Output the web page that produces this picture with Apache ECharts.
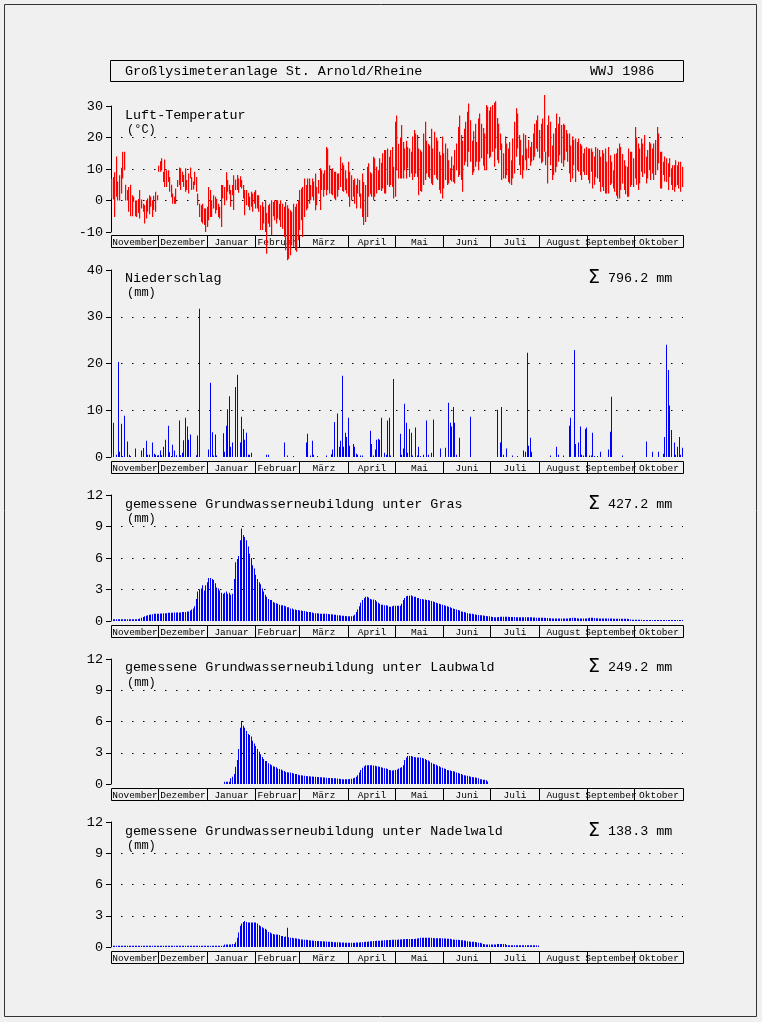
<!DOCTYPE html>
<html><head><meta charset="utf-8">
<script src="https://cdn.jsdelivr.net/npm/echarts@6/dist/echarts.min.js"></script>
<style>html,body{margin:0;padding:0;background:#f0f0f0;}#c{width:762px;height:1022px;}</style>
</head><body><div id="c"></div>
<script>
// ---------- data ----------
const monthNames = ['November','Dezember','Januar','Februar','März','April','Mai','Juni','Juli','August','September','Oktober'];
const monthDays = [30,31,31,28,31,30,31,30,31,31,30,31];
const tempTicks = [-10, 0, 10, 20, 30];
const precipTicks = [0, 10, 20, 30, 40];
const gwTicks = [0, 3, 6, 9, 12];
const titleText = 'Großlysimeteranlage St. Arnold/Rheine';
const yearText = 'WWJ 1986';
const panelTitles = ['Luft-Temperatur','Niederschlag','gemessene Grundwasserneubildung unter Gras','gemessene Grundwasserneubildung unter Laubwald','gemessene Grundwasserneubildung unter Nadelwald'];
const panelUnits = ['(°C)','(mm)','(mm)','(mm)','(mm)'];
const sums = [null,'796.2','427.2','249.2','138.3'];

// daily maximum temperature (°C), Nov 1985 .. Oct 1986
const tmax = [
 [7,7.5,9,14,6,8,10.4,15.5,15.5,5,3.3,4.3,5,1.7,1.2,0,0,0.5,3.3,0.3,-1,-1.5,0.1,0.6,1.7,1.2,0.1,1.5,2.8,1.7],
 [11,12.5,13.4,9.1,13,9.6,9.6,7.5,5,2.2,1.2,3.8,6.5,10.5,10.2,9.1,8.1,10.2,6.5,8.6,10.5,7.5,6,9.1,7.5,2.2,-1,-1.5,-1,-2.5,-2.5],
 [-2,4.3,3.3,0.1,1.7,1.2,0.5,-1,-2,4.9,4.9,4.3,9,6.5,5,3.3,4.9,8,6.7,8.1,7,7.7,6.5,4.9,3.3,3.3,2.5,1.2,2.8,2.2,2.8],
 [3.3,1.7,1.7,-1.5,-0.5,-2,0.1,-4,-1.5,-1,0.1,-0.5,0.1,0.1,0.1,-1,0.1,-1,-2,-0.5,-1.5,-2.5,-3.1,-3.6,-1,-2,-1,0.1],
 [3.3,3.8,4.3,7,4.9,7,7,4.9,7,6,8.6,4.3,6.5,10.2,9.6,8.6,9.6,17,16.5,11.2,10,10.2,9.1,9.1,8.6,8.6,13.9,12,11.2,9.6,7],
 [12.3,9.1,8,6.5,7,4.9,7,6.5,2.2,8.6,5.9,4.9,10.7,11.8,9,8.6,13.9,13.4,10.7,9.6,13.4,12,15,16,16,16.5,13.9,16,17,10.7],
 [25,27,18,20,24,18.6,16.5,19,17,16.5,15.5,20.3,22.4,21.3,20.8,16.5,16,15.5,21.3,25,19,18,17.5,22.8,16.5,21.8,20,19,15.5,14.4,20.3],
 [15,18.1,16.5,12.8,10.2,14,11.2,16,18.1,23.3,27,20.8,19,22.8,25,28.2,30.8,25.5,19,22,24.4,18.6,26,27.6,24.4,23,21.3,30.3,29.8,28.6],
 [29.8,30.3,31,31.5,26.2,24.4,21.3,18.1,15,20.3,18.1,16.5,18.6,12.8,19.7,25,29.3,27.6,20.8,19.2,14.4,21.3,20.8,16.5,19.2,17,18.6,21.3,24.4,25.5,27],
 [22.4,24.4,26,33.5,15.5,24,27,25,17.5,21.3,23,27.6,24.4,26.5,24,24.4,24,22.4,21.3,21.3,17.5,20.3,19.2,19.7,18.6,19.7,18,17.5,15,16.5,17],
 [16.5,16.5,16.5,15.5,14,17,16.5,16,13.9,16,15,16.5,12.3,17,14.4,12.3,9.6,14.8,15,16.5,18.1,17,14.8,12.8,11,10.7,16.5,15.5,15.5,13.4],
 [23.3,20,18.1,16.5,19.7,18.1,20.8,13.9,16,18.6,18.1,16.5,18.1,19.2,23.3,21.3,15.5,15.5,12.3,14,13.4,11.8,13.4,10.2,11.2,11.2,12.8,11.2,12.3,12.3,10.7]
].flat();
// daily minimum temperature (°C)
const tmin = [
 [0.6,0.3,-5.2,1.2,0,0,2.2,7,9.6,0,0,-3.6,-5,-5,-0.4,-5,-5.2,-4,-5.7,-2.5,-3.6,-7.3,-5.7,-3.6,-4.4,-2,-5.2,-3,-3.6,0.1],
 [9.1,9.1,9.6,5.9,4.3,4.3,5.9,2.8,1,-1,-1,-1,4.3,4.9,3.3,5.9,4.3,2.8,3.3,2.2,7,3.3,3.5,4.9,2.8,-1.5,-5.2,-6.8,-7.3,-7.8,-10],
 [-8.4,-6.3,-5.2,-5.2,-2.5,-4.1,-3,-5.2,-5.7,-8.4,0.6,-1.5,0,2.8,2,-2,1.7,-3,3.3,3.3,2.5,4.3,3.8,0.6,-4.7,-1.5,-2,-3.1,-2,-3.6,-1],
 [-2.5,-2.5,-3.6,-9.4,-9.4,-7.3,-10,-16.9,-7.3,-8.4,-11,-5,-6.3,-7.3,-5.7,-6.3,-8.4,-9,-11.6,-15.8,-19,-18.5,-17.4,-14.2,-14.7,-15.8,-16.3,-12.6],
 [-9.4,-6.3,-11.6,-5.2,-3.1,-2.5,-1,0.1,1.2,0,-3.1,-1.5,2.2,-3,3.3,1.2,3.3,1.7,3.3,2.2,2,1.7,0.6,0.1,1.2,3.3,4.3,3,2.8,3.3,2.2],
 [1.2,-2,0,1.2,-1,-2.5,2.2,1.2,-2.5,-5.2,-7.8,-6.8,-5.2,1.2,2,1.2,0.1,1.2,2.2,3.3,3.3,3,3.8,2.2,2.2,4.9,4.3,4.9,4.3,0.6],
 [1.2,9.6,7,7,7,7,9.6,7,10.2,7.5,8.6,6.5,7.5,8.6,7.5,1.7,3,2.8,4.9,6.5,8.6,7.5,7,5.4,4.9,8.1,7,6.5,3.3,2.2,0.6],
 [3.8,6.5,4.9,5.4,6.5,6,5.9,5.4,9.6,7.5,8.1,6.5,2.8,11.2,12.3,10.7,15.5,12.3,8.1,9,10.7,12.3,9.6,12.3,13.4,11,9.6,9.6,14.8,13.4],
 [13.9,15.5,10.7,16.5,12.8,11.8,16,6.5,7,7,8.1,5.9,5.4,4.9,7,8.6,13.9,16.5,11.2,8.1,7,9.6,12.8,9.6,13.4,11,12.3,12.8,13.9,16.5,15.5],
 [13.4,11.8,12.3,15.5,11.2,5.4,13.9,11.2,6.5,8.1,9,10.7,12.3,14.4,11.8,10.7,12.8,15.5,12.3,8.6,5.9,7,11.2,5.9,9.6,9.1,8,6.5,9.1,8.1,8.1],
 [6.5,5.4,9.1,3.8,5,7.5,7,5.9,2.8,4.3,3,2.2,2.2,2.2,4.9,5.4,3.8,2.8,1.5,0.6,0.6,3.3,5.4,3.3,2,1.2,1.2,4.3,4.9,4.3],
 [7,5,3.3,5.4,9.1,7.5,8.6,5.4,7,9.6,6.5,8.6,6.5,8.1,9.6,11.8,3.8,3.8,8.1,6,5.9,3.3,7.5,4.9,3.3,2.8,4.3,4.9,3.8,2.8,4.3]
].flat();
// daily precipitation (mm)
const precip = [
 [0.9,7.3,0,0.5,20.3,1.1,7.1,0.2,8.8,0,3.3,0.5,0.2,0,0,1.8,0,0,0,1.4,1.9,0,3.5,0.5,0.5,0,3.1,0.7,0.5,0.3],
 [0.4,1.4,0.4,2.2,3.7,0,6.7,1,0.2,2.6,1.4,0.4,0,7.8,0.4,0.9,3.6,8.4,6.5,3.7,4.8,0,0,0,0.4,4.6,31.7,0,0,0,0],
 [0,1.6,15.9,5.3,0.3,4.8,0.3,0,0,0,5.1,1.1,6.7,10.2,13,2.2,3.1,0,15,17.6,0,3.1,8.6,6,3.7,5.2,0.5,0.5,0.9,0,0],
 [0,0,0,0,0,0,0,0.5,0.5,0,0,0,0,0,0,0,0,0,3.1,0,0.3,0,0,0,0.2,0,0,0],
 [0,0,0,0,3.1,5,0,0.3,3.5,0.5,0,0.2,0,0,0,0,0,0.3,0,0,0.6,1.6,7.5,0,9.3,2.2,3.5,17.4,2.2,5.2,4.3],
 [8.4,2.4,0,2.8,2.2,0.7,0.5,0,0.3,0.3,0,0,0,0,5.6,2.8,0.3,1.6,3.7,3.9,3.7,8.4,0,0.9,0.5,7.8,8.4,0.3,0,16.7],
 [0,0,0,5,0.5,1.8,11.4,7.3,0.9,6,5.2,0.3,0,6.3,0.3,2.2,0.2,0,0.5,0,7.8,0.5,0,0.9,8,0,0,0,0,1.8,0],
 [0,2,0,11.6,7.3,6.5,10.7,7.3,0.5,0,4.1,0,0,0,0,0,0,8.6,0,0,0,0,0,0,0,0,0,0,0,0],
 [0,0,0,0,10.1,0,3.1,10.7,0.5,0,1.8,0,0,0,0.3,0,0,0.2,0,0,0,1.4,1.1,22.3,2.4,4.1,1.1,0,0,0,0],
 [0,0,0,0,0,0,0,0.3,0,0,0,2.2,0.5,0,0,0.3,0,0,0,6.7,8.4,0,22.9,2.8,0,3.1,6.5,0.5,0.3,6,6.3],
 [0,0.3,0.3,5.2,0.2,0,0.2,0,1.1,0,0,0,0,1.6,5.4,12.9,0,0,0,0,0,0,0.3,0,0,0,0,0,0,0],
 [0,0,0,0,0,0,0,3.3,0,0,0,1.1,0,0,0,1.1,0,0,0.7,4.3,24,18.6,11,5.8,0,3.1,0.5,2.2,4.3,0.5,2]
].flat();
// daily groundwater recharge under grass (mm)
const gwGras = [
 [0.16,0.16,0.16,0.16,0.16,0.16,0.16,0.16,0.16,0.16,0.16,0.16,0.16,0.16,0.16,0.16,0.16,0.18,0.25,0.32,0.38,0.45,0.5,0.55,0.6,0.62,0.65,0.68,0.68,0.7],
 [0.7,0.72,0.72,0.75,0.75,0.75,0.78,0.78,0.78,0.78,0.8,0.8,0.8,0.8,0.82,0.85,0.85,0.85,0.9,0.9,1.0,1.1,1.2,1.4,2.1,2.8,3.0,3.1,3.4,2.9,3.4],
 [3.7,4.1,4.1,4.0,3.9,3.6,3.2,3.1,2.9,2.7,2.6,2.7,2.8,2.6,2.7,2.5,2.6,4.0,5.6,5.9,6.2,7.7,8.8,8.2,8.0,7.7,7.1,6.4,6.0,5.3,5.0],
 [4.4,4.0,3.7,3.5,3.1,2.8,2.5,2.3,2.1,2.0,2.0,1.8,1.75,1.7,1.65,1.55,1.5,1.5,1.45,1.4,1.3,1.3,1.2,1.2,1.1,1.1,1.05,1.05],
 [1.0,1.0,0.95,0.95,0.9,0.85,0.85,0.85,0.8,0.75,0.75,0.75,0.72,0.7,0.7,0.7,0.68,0.68,0.66,0.65,0.65,0.62,0.6,0.6,0.55,0.55,0.52,0.5,0.5,0.48,0.45],
 [0.45,0.45,0.45,0.5,0.6,0.85,1.1,1.4,1.75,2.0,2.2,2.3,2.3,2.25,2.1,2.05,2.05,2.0,1.85,1.75,1.65,1.55,1.55,1.5,1.5,1.45,1.35,1.35,1.4,1.45],
 [1.45,1.45,1.45,1.45,1.65,2.0,2.2,2.35,2.4,2.4,2.45,2.35,2.3,2.3,2.2,2.2,2.1,2.1,2.05,2.05,2.0,2.0,1.95,1.9,1.85,1.8,1.75,1.7,1.65,1.6,1.55],
 [1.5,1.45,1.4,1.35,1.3,1.25,1.2,1.15,1.1,1.05,1.0,0.9,0.88,0.85,0.8,0.75,0.72,0.7,0.68,0.65,0.63,0.6,0.58,0.55,0.55,0.52,0.5,0.48,0.45,0.45],
 [0.4,0.38,0.35,0.35,0.36,0.38,0.4,0.4,0.4,0.4,0.4,0.4,0.38,0.38,0.38,0.38,0.36,0.36,0.36,0.35,0.35,0.35,0.35,0.35,0.35,0.35,0.35,0.34,0.34,0.32,0.32],
 [0.3,0.3,0.3,0.3,0.28,0.28,0.26,0.26,0.25,0.25,0.25,0.25,0.25,0.25,0.25,0.25,0.25,0.25,0.25,0.27,0.28,0.3,0.3,0.28,0.26,0.25,0.25,0.25,0.25,0.25,0.25],
 [0.27,0.3,0.3,0.3,0.28,0.27,0.26,0.25,0.25,0.25,0.25,0.24,0.24,0.24,0.23,0.23,0.22,0.22,0.22,0.22,0.22,0.22,0.22,0.22,0.22,0.22,0.2,0.15,0.13,0.13],
 [0.12,0.12,0.12,0.11,0.11,0.1,0.1,0.1,0.1,0.1,0.1,0.1,0.1,0.1,0.1,0.1,0.1,0.1,0.1,0.1,0.1,0.1,0.1,0.1,0.1,0.1,0.1,0.1,0.1,0.1,0.1]
].flat();
// daily groundwater recharge under deciduous forest (mm)
const gwLaub = [
 [0,0,0,0,0,0,0,0,0,0,0,0,0,0,0,0,0,0,0,0,0,0,0,0,0,0,0,0,0,0],
 [0,0,0,0,0,0,0,0,0,0,0,0,0,0,0,0,0,0,0,0,0,0,0,0,0,0,0,0,0,0,0],
 [0,0,0,0,0,0,0,0,0,0,0,0.22,0.22,0.22,0.22,0.55,0.7,0.95,1.65,2.3,3.35,5.4,6.05,5.6,5.4,5.1,4.8,4.7,4.55,4.15,3.9],
 [3.65,3.35,3.1,2.85,2.6,2.4,2.2,2.2,2.0,1.9,1.8,1.7,1.65,1.6,1.5,1.45,1.4,1.3,1.25,1.15,1.12,1.1,1.1,1.05,1.0,0.95,0.95,0.9],
 [0.85,0.85,0.82,0.8,0.78,0.75,0.75,0.72,0.72,0.7,0.7,0.68,0.68,0.65,0.65,0.63,0.62,0.6,0.58,0.58,0.57,0.56,0.55,0.55,0.52,0.5,0.48,0.46,0.45,0.45,0.45],
 [0.46,0.48,0.5,0.55,0.6,0.7,0.85,1.1,1.35,1.55,1.7,1.8,1.8,1.8,1.8,1.8,1.78,1.75,1.7,1.68,1.65,1.6,1.55,1.52,1.5,1.45,1.35,1.32,1.3,1.32],
 [1.35,1.4,1.5,1.55,1.6,1.8,2.3,2.55,2.7,2.7,2.7,2.65,2.6,2.58,2.55,2.55,2.55,2.5,2.45,2.4,2.3,2.25,2.15,2.05,1.95,1.9,1.85,1.75,1.7,1.6,1.55],
 [1.5,1.45,1.35,1.32,1.3,1.25,1.22,1.2,1.1,1.05,1.0,0.95,0.9,0.85,0.82,0.8,0.75,0.7,0.68,0.65,0.62,0.6,0.55,0.45,0.45,0.42,0.4,0.35,0.25,0],
 [0,0,0,0,0,0,0,0,0,0,0,0,0,0,0,0,0,0,0,0,0,0,0,0,0,0,0,0,0,0,0],
 [0,0,0,0,0,0,0,0,0,0,0,0,0,0,0,0,0,0,0,0,0,0,0,0,0,0,0,0,0,0,0],
 [0,0,0,0,0,0,0,0,0,0,0,0,0,0,0,0,0,0,0,0,0,0,0,0,0,0,0,0,0,0],
 [0,0,0,0,0,0,0,0,0,0,0,0,0,0,0,0,0,0,0,0,0,0,0,0,0,0,0,0,0,0,0]
].flat();
// daily groundwater recharge under coniferous forest (mm)
const gwNadel = [
 [0.13,0.13,0.13,0.13,0.13,0.13,0.13,0.13,0.13,0.13,0.13,0.13,0.13,0.13,0.13,0.13,0.13,0.13,0.13,0.13,0.13,0.13,0.13,0.13,0.13,0.13,0.13,0.13,0.13,0.13],
 [0.13,0.13,0.13,0.13,0.13,0.13,0.13,0.13,0.13,0.13,0.13,0.13,0.13,0.13,0.13,0.13,0.13,0.13,0.13,0.13,0.13,0.13,0.13,0.13,0.13,0.13,0.13,0.13,0.13,0.13,0.13],
 [0.13,0.13,0.13,0.13,0.13,0.13,0.13,0.13,0.13,0.13,0.13,0.25,0.25,0.25,0.25,0.25,0.28,0.3,0.45,0.9,1.4,2.05,2.25,2.4,2.5,2.4,2.35,2.35,2.35,2.35,2.35],
 [2.35,2.25,2.1,2.0,1.9,1.8,1.75,1.65,1.45,1.4,1.3,1.25,1.2,1.2,1.2,1.15,1.05,1.05,0.95,1.0,1.85,0.93,0.9,0.88,0.85,0.83,0.82,0.8],
 [0.75,0.73,0.72,0.7,0.7,0.68,0.64,0.63,0.62,0.6,0.58,0.58,0.57,0.56,0.55,0.55,0.54,0.52,0.5,0.5,0.5,0.48,0.46,0.45,0.45,0.45,0.44,0.44,0.43,0.42,0.42],
 [0.42,0.42,0.42,0.42,0.42,0.43,0.43,0.44,0.45,0.46,0.48,0.5,0.5,0.52,0.55,0.56,0.58,0.58,0.6,0.6,0.6,0.62,0.63,0.65,0.66,0.67,0.68,0.68,0.7,0.7],
 [0.7,0.7,0.72,0.72,0.74,0.75,0.76,0.77,0.77,0.77,0.77,0.77,0.78,0.8,0.82,0.85,0.88,0.9,0.9,0.9,0.9,0.9,0.88,0.88,0.86,0.85,0.84,0.84,0.83,0.83,0.83],
 [0.82,0.82,0.8,0.8,0.8,0.75,0.72,0.7,0.7,0.7,0.68,0.66,0.65,0.62,0.6,0.55,0.52,0.5,0.5,0.5,0.48,0.45,0.42,0.4,0.35,0.3,0.27,0.25,0.25,0.25],
 [0.25,0.25,0.25,0.25,0.3,0.3,0.3,0.3,0.3,0.3,0.2,0.18,0.18,0.18,0.18,0.18,0.18,0.18,0.18,0.18,0.18,0.18,0.18,0.18,0.18,0.18,0.18,0.18,0.18,0.18,0.15],
 [0,0,0,0,0,0,0,0,0,0,0,0,0,0,0,0,0,0,0,0,0,0,0,0,0,0,0,0,0,0,0],
 [0,0,0,0,0,0,0,0,0,0,0,0,0,0,0,0,0,0,0,0,0,0,0,0,0,0,0,0,0,0],
 [0,0,0,0,0,0,0,0,0,0,0,0,0,0,0,0,0,0,0,0,0,0,0,0,0,0,0,0,0,0,0]
].flat();

// ---------- chart ----------
const FONT = '"Liberation Mono","DejaVu Sans Mono",monospace';
const nDays = monthDays.reduce((a,b)=>a+b,0);
const stripData = [];
{ let s = 0; monthDays.forEach(d => { stripData.push([s, s + d]); s += d; }); }

const PL = 111, PW = 572;
const panels = [
  {top:106, height:126, ticks:tempTicks, strip:235},
  {top:270, height:187, ticks:precipTicks, strip:461},
  {top:495, height:126, ticks:gwTicks, strip:625},
  {top:659, height:125, ticks:gwTicks, strip:788},
  {top:822, height:125, ticks:gwTicks, strip:951}
];
const titleY = [[115,130],[278,293],[504,519],[667,683],[831,846]];

const grid = [], xAxis = [], yAxis = [], series = [];
panels.forEach((p, i) => {
  grid.push({left:PL, top:p.top, width:PW, height:p.height});
  grid.push({left:PL, top:p.strip, width:PW, height:13});
  const gi = i*2;
  xAxis.push({gridIndex:gi, type:'value', min:0, max:nDays, show:false});
  xAxis.push({gridIndex:gi+1, type:'value', min:0, max:nDays, show:false});
  const t = p.ticks;
  yAxis.push({gridIndex:gi, type:'value', min:t[0], max:t[t.length-1], interval:t[1]-t[0],
    axisLine:{show:true, lineStyle:{color:'#000', width:1}},
    axisTick:{show:true, length:5, lineStyle:{color:'#000'}},
    axisLabel:{color:'#000', fontFamily:FONT, fontSize:13.5, margin:8},
    splitLine:{show:true, showMinLine:false, showMaxLine:false,
      lineStyle:{color:'#000', width:1.2, type:[1.5,9.5], dashOffset:1}}});
  yAxis.push({gridIndex:gi+1, type:'value', min:0, max:1, show:false});
  series.push({type:'custom', xAxisIndex:gi+1, yAxisIndex:gi+1, z:2, silent:true,
    data:stripData, renderItem:stripItem});
});

function stripItem(params, api){
  const a = api.coord([api.value(0), 1]), b = api.coord([api.value(1), 0]);
  const x0 = Math.round(a[0])+0.5, x1 = Math.round(b[0])+0.5;
  const y0 = Math.round(a[1])+0.5, y1 = Math.round(b[1])-0.5;
  return {type:'group', children:[
    {type:'rect', shape:{x:x0, y:y0, width:x1-x0, height:y1-y0},
      style:{fill:'transparent', stroke:'#000', lineWidth:1}},
    {type:'text', style:{text:monthNames[params.dataIndex], x:(x0+x1)/2, y:(y0+y1)/2+0.5,
      align:'center', verticalAlign:'middle', font:'9.5px ' + FONT, fill:'#000'}}
  ]};
}
function tempItem(params, api){
  const d = api.value(0), lo = api.value(1), hi = api.value(2);
  const a = api.coord([d+0.5, hi]), b = api.coord([d+0.5, lo]);
  return {type:'rect', shape:{x:Math.round(a[0]-0.6), y:a[1], width:1.2, height:Math.max(1, b[1]-a[1])},
    style:{fill:'#ff0000'}};
}
function barItem(color){
  return function(params, api){
    const d = api.value(0), v = api.value(1);
    if (!(v > 0)) return null;
    const a = api.coord([d+0.5, v]), b = api.coord([d+0.5, 0]);
    return {type:'rect', shape:{x:Math.round(a[0]-0.5), y:a[1], width:1, height:Math.max(1, b[1]-a[1])},
      style:{fill:color}};
  };
}

series.push({type:'custom', xAxisIndex:0, yAxisIndex:0, z:5, clip:false, silent:true,
  data:tmax.map((v,i)=>[i, tmin[i], v]), encode:{x:0, y:[1,2]}, renderItem:tempItem});
[[precip,2],[gwGras,4],[gwLaub,6],[gwNadel,8]].forEach(([arr, gi]) => {
  series.push({type:'custom', xAxisIndex:gi, yAxisIndex:gi, z:5, silent:true,
    data:arr.map((v,i)=>[i, v]), encode:{x:0, y:1}, renderItem:barItem('#0000ff')});
});

const graphic = [
  {type:'rect', shape:{x:4.5, y:4.5, width:752, height:1012}, style:{fill:'transparent', stroke:'#333', lineWidth:1}, silent:true},
  {type:'rect', shape:{x:110.5, y:60.5, width:573, height:21}, style:{fill:'transparent', stroke:'#000', lineWidth:1}, silent:true},
  {type:'text', x:125, y:71, style:{text:titleText, font:'13.4px '+FONT, fill:'#000', verticalAlign:'middle'}},
  {type:'text', x:590, y:71, style:{text:yearText, font:'13.4px '+FONT, fill:'#000', verticalAlign:'middle'}}
];
panelTitles.forEach((t, i) => {
  graphic.push({type:'text', x:125, y:titleY[i][0], style:{text:t, font:'13.4px '+FONT, fill:'#000', verticalAlign:'middle'}});
  graphic.push({type:'text', x:127, y:titleY[i][1], style:{text:panelUnits[i], font:'12px '+FONT, fill:'#000', verticalAlign:'middle'}});
  if (sums[i]) {
    graphic.push({type:'text', x:588, y:titleY[i][0], style:{text:'{s|Σ} ' + sums[i] + ' mm', font:'13.4px '+FONT, fill:'#000', verticalAlign:'middle',
      rich:{s:{font:'19px "DejaVu Sans"', fill:'#000'}}}});
  }
});

const chart = echarts.init(document.getElementById('c'), null, {renderer:'canvas'});
chart.setOption({animation:false, backgroundColor:'#f0f0f0', grid, xAxis, yAxis, series, graphic});
</script>
</body></html>
